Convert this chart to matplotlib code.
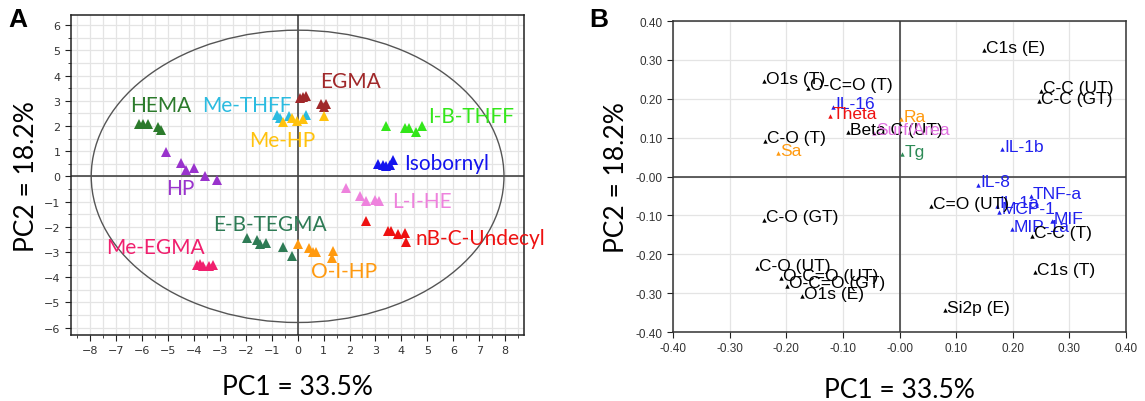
import numpy as np
import matplotlib
matplotlib.use('Agg')
import matplotlib.pyplot as plt
from matplotlib.patches import Ellipse
from matplotlib.ticker import MultipleLocator, FuncFormatter

# ---- panel A: PCA scores per polymer ----
groups = ['HEMA', 'Me-THFF', 'EGMA', 'Me-HP', 'I-B-THFF', 'Isobornyl',
          'HP', 'L-I-HE', 'nB-C-Undecyl', 'E-B-TEGMA', 'Me-EGMA', 'O-I-HP']
group_colors = ['#2b7a2b', '#2bbbe0', '#a0282a', '#ffc20e', '#33e61a', '#1414ee',
                '#9933cc', '#ee82dd', '#ee1111', '#2e7b55', '#f0206e', '#ff9a10']

hema_pc1 = [-6.1, -5.97, -5.75, -5.39, -5.27]
hema_pc2 = [2.07, 2.08, 2.09, 1.94, 1.85]
methff_pc1 = [-0.78, -0.68, -0.35, 0.32]
methff_pc2 = [2.43, 2.3, 2.41, 2.43]
egma_pc1 = [0.08, 0.2, 0.33, 0.92, 1.1, 1.0]
egma_pc2 = [3.1, 3.15, 3.18, 2.87, 2.87, 2.76]
mehp_pc1 = [-0.55, -0.2, -0.04, 0.22, 1.02]
mehp_pc2 = [2.17, 2.3, 2.2, 2.28, 2.41]
ibthff_pc1 = [3.4, 4.13, 4.3, 4.56, 4.81]
ibthff_pc2 = [2.01, 1.9, 1.9, 1.77, 1.98]
isob_pc1 = [3.08, 3.28, 3.4, 3.56, 3.68]
isob_pc2 = [0.49, 0.45, 0.42, 0.46, 0.66]
hp_pc1 = [-5.07, -4.5, -4.3, -3.98, -3.58, -3.11]
hp_pc2 = [0.98, 0.53, 0.24, 0.32, 0.0, -0.13]
lihe_pc1 = [1.86, 2.4, 2.63, 2.98, 3.14]
lihe_pc2 = [-0.48, -0.8, -0.97, -0.93, -0.97]
nbc_pc1 = [2.63, 3.47, 3.6, 3.88, 4.13, 4.17]
nbc_pc2 = [-1.79, -2.16, -2.16, -2.29, -2.26, -2.6]
ebteg_pc1 = [-1.94, -1.58, -1.45, -1.22, -0.58, -0.23]
ebteg_pc2 = [-2.45, -2.53, -2.69, -2.65, -2.79, -3.15]
meegma_pc1 = [-3.89, -3.76, -3.66, -3.4, -3.27]
meegma_pc2 = [-3.52, -3.48, -3.55, -3.57, -3.52]
oihp_pc1 = [0.0, 0.45, 0.58, 0.7, 1.35, 1.31]
oihp_pc2 = [-2.69, -2.86, -3.0, -3.0, -2.95, -3.25]

score_x = [hema_pc1, methff_pc1, egma_pc1, mehp_pc1, ibthff_pc1, isob_pc1,
           hp_pc1, lihe_pc1, nbc_pc1, ebteg_pc1, meegma_pc1, oihp_pc1]
score_y = [hema_pc2, methff_pc2, egma_pc2, mehp_pc2, ibthff_pc2, isob_pc2,
           hp_pc2, lihe_pc2, nbc_pc2, ebteg_pc2, meegma_pc2, oihp_pc2]

# where each group name is written
label_xy = [(-6.45, 2.85), (-3.66, 2.85), (0.88, 3.8), (-1.87, 1.44), (5.01, 2.38),
            (4.11, 0.52), (-5.07, -0.46), (3.66, -0.97), (4.56, -2.44), (-3.25, -1.91),
            (-7.38, -2.82), (0.51, -3.77)]

# ---- panel B: loadings ----
load_names = ['O1s (T)', 'O-C=O (T)', 'IL-16', 'Theta', 'Beta C (UT)', 'Surf/Area',
              'C-O (T)', 'Sa', 'C1s (E)', 'C-C (UT)', 'C-C (GT)', 'Ra', 'Tg', 'IL-1b',
              'IL-8', 'TNF-a', 'IL-1a', 'MCP-1', 'MIP-1a', 'MIF', 'C=O (UT)', 'C-C (T)',
              'C1s (T)', 'Si2p (E)', 'C-O (GT)', 'C-O (UT)', 'O-C=O (UT)', 'O-C=O (GT)',
              'O1s (E)']
load_pc1 = [-0.239, -0.161, -0.117, -0.122, -0.091, -0.045,
            -0.238, -0.214, 0.149, 0.25, 0.247, 0.003, 0.005, 0.181,
            0.139, 0.232, 0.173, 0.176, 0.198, 0.269, 0.056, 0.234,
            0.24, 0.081, -0.239, -0.251, -0.21, -0.198,
            -0.172]
load_pc2 = [0.245, 0.229, 0.18, 0.155, 0.115, 0.113,
            0.092, 0.06, 0.326, 0.221, 0.193, 0.148, 0.058, 0.071,
            -0.021, -0.051, -0.075, -0.09, -0.135, -0.114, -0.077, -0.152,
            -0.246, -0.343, -0.111, -0.236, -0.262, -0.281,
            -0.307]
load_kind = ['xps', 'xps', 'cyto', 'wca', 'xps', 'area',
             'xps', 'rough', 'xps', 'xps', 'xps', 'rough', 'tg', 'cyto',
             'cyto', 'cyto', 'cyto', 'cyto', 'cyto', 'cyto', 'xps', 'xps',
             'xps', 'xps', 'xps', 'xps', 'xps', 'xps',
             'xps']
kind_color = {'xps': 'black', 'cyto': '#2020ee', 'wca': '#ee1111',
              'rough': '#ff9a10', 'tg': '#2e8b57', 'area': '#e070e0'}

label_font = ['Lato', 'DejaVu Sans']
arial = ['Liberation Sans', 'DejaVu Sans']
fig = plt.figure(figsize=(11.45, 4.02), dpi=100)

# ================= A =================
axA = fig.add_axes([0.062, 0.164, 0.3956, 0.796])
axA.set_xlim(-8.73, 8.72)
axA.set_ylim(-6.3, 6.4)
axA.xaxis.set_major_locator(MultipleLocator(1))
axA.xaxis.set_minor_locator(MultipleLocator(0.5))
axA.yaxis.set_major_locator(MultipleLocator(1))
axA.yaxis.set_minor_locator(MultipleLocator(0.5))
axA.grid(True, which='both', color='#e4e4e4', linewidth=0.9, zorder=0)
axA.set_axisbelow(True)
axA.axhline(0, color='#444444', lw=1.2, zorder=1)
axA.axvline(0, color='#444444', lw=1.2, zorder=1)
axA.add_patch(Ellipse((0, 0), 2 * 7.95, 2 * 5.8, fill=False,
                      edgecolor='#555555', lw=1.0, zorder=1))
for xs, ys, c in zip(score_x, score_y, group_colors):
    axA.plot(xs, ys, '^', color=c, markersize=7.5, markeredgewidth=0, zorder=3)
for name, (tx, ty), c in zip(groups, label_xy, group_colors):
    axA.text(tx, ty, name, color=c, fontsize=15, va='center', ha='left',
             family=label_font, zorder=4)
axA.tick_params(which='major', length=4, labelsize=8, colors='#222222',
                labelcolor='#333333')
axA.tick_params(which='minor', length=2.5, colors='#222222')
for s in axA.spines.values():
    s.set_color('#222222')
    s.set_linewidth(1.1)
axA.set_xlabel('PC1 = 33.5%', fontsize=19, family=label_font, labelpad=13)
axA.set_ylabel('PC2 = 18.2%', fontsize=19, family=label_font, labelpad=4)

# ================= B =================
axB = fig.add_axes([0.5878, 0.1716, 0.3956, 0.7736])
axB.set_xlim(-0.4, 0.4)
axB.set_ylim(-0.4, 0.4)
ticks = np.round(np.arange(-0.4, 0.41, 0.1), 2)
axB.set_xticks(ticks)
axB.set_yticks(ticks)
fmt = FuncFormatter(lambda v, p: '-0.00' if abs(v) < 1e-9 else '%.2f' % v)
axB.xaxis.set_major_formatter(fmt)
axB.yaxis.set_major_formatter(fmt)
axB.grid(True, color='#e4e4e4', linewidth=0.9, zorder=0)
axB.set_axisbelow(True)
axB.axhline(0, color='#444444', lw=1.2, zorder=1)
axB.axvline(0, color='#444444', lw=1.2, zorder=1)
for n, x, y, k in zip(load_names, load_pc1, load_pc2, load_kind):
    c = kind_color[k]
    axB.plot(x, y, '^', color=c, markersize=3.2, markeredgewidth=0, zorder=3)
    axB.annotate(n, (x, y), xytext=(1.5, 2), textcoords='offset points',
                 color=c, fontsize=12.5, va='center', ha='left',
                 family=arial, zorder=4)
axB.tick_params(length=4, labelsize=8.5, colors='#222222', labelcolor='#333333')
for lab in axB.get_xticklabels() + axB.get_yticklabels():
    lab.set_family(arial)
for s in axB.spines.values():
    s.set_color('#333333')
    s.set_linewidth(1.1)
axB.set_xlabel('PC1 = 33.5%', fontsize=19, family=label_font, labelpad=16)
axB.set_ylabel('PC2 = 18.2%', fontsize=19, family=label_font, labelpad=5)

fig.text(0.016, 0.95, 'A', fontsize=19, fontweight='bold', va='center', ha='center',
         family=arial)
fig.text(0.523, 0.95, 'B', fontsize=19, fontweight='bold', va='center', ha='center',
         family=arial)

fig.savefig('out.png', dpi=100)
